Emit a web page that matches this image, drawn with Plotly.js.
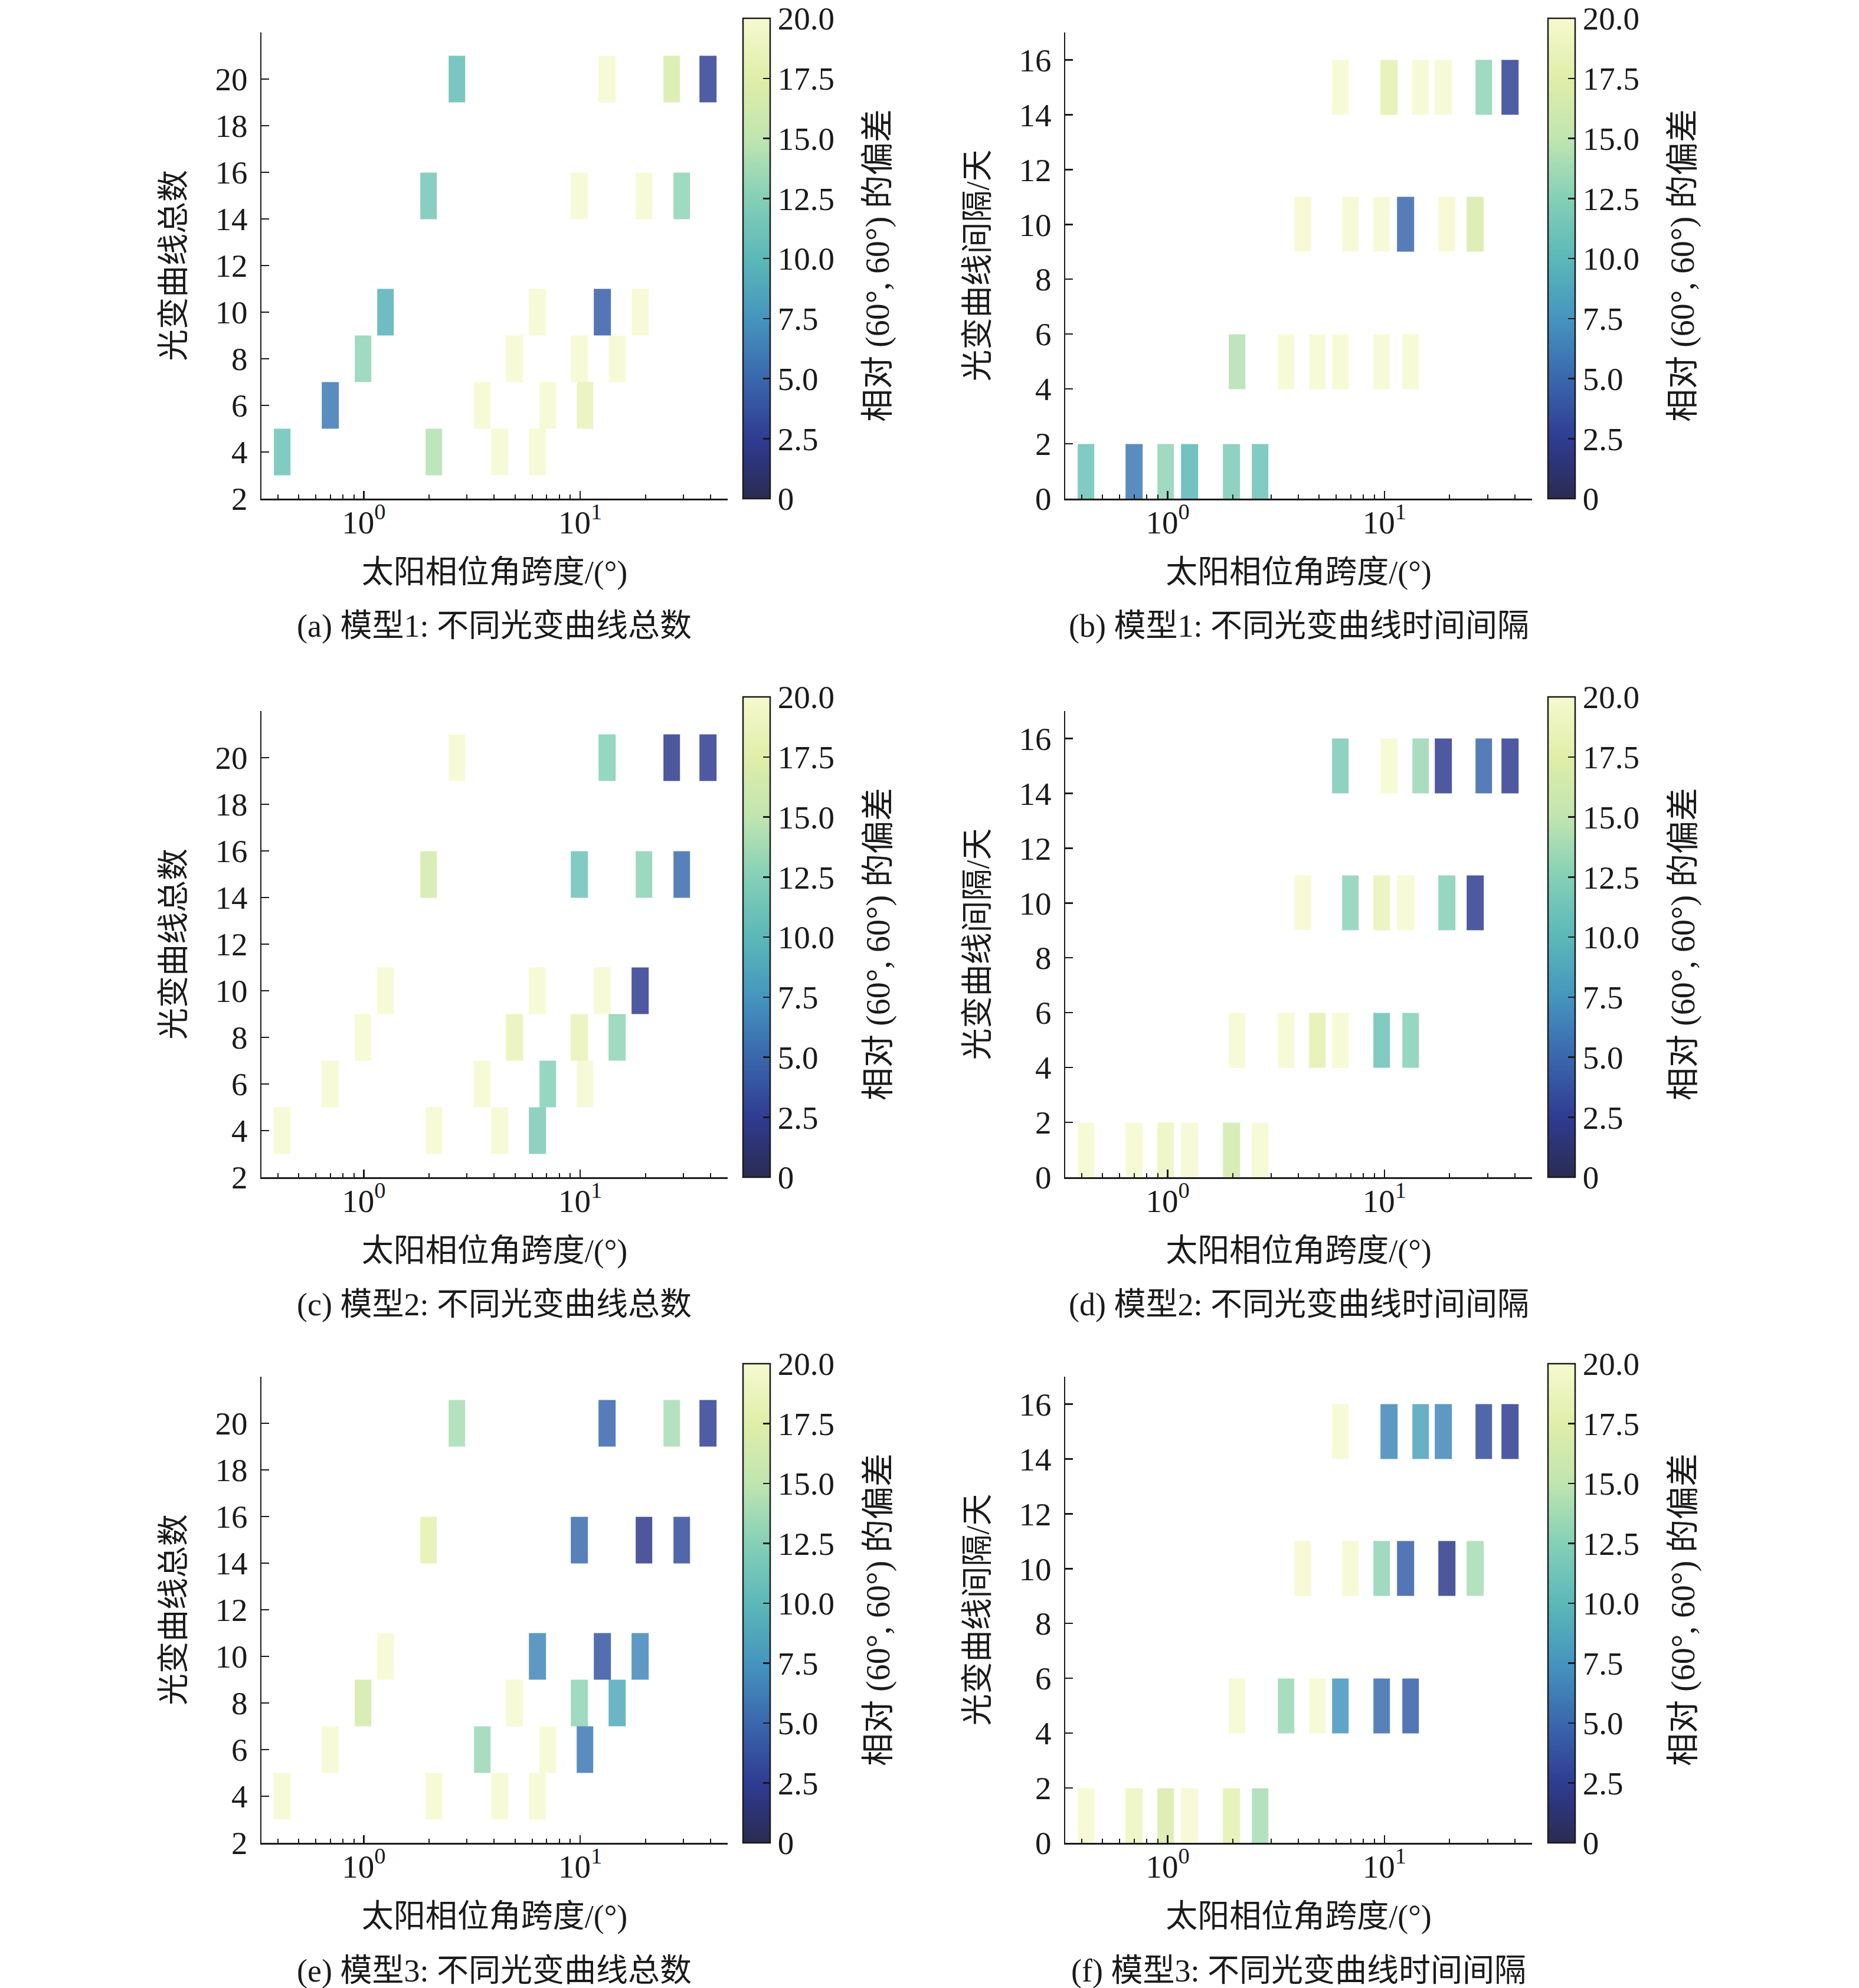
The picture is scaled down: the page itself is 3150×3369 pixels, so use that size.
<!DOCTYPE html>
<html>
<head>
<meta charset="utf-8">
<script src="https://cdn.plot.ly/plotly-3.0.1.min.js"></script>
<style>html,body{margin:0;padding:0;background:#fff}</style>
</head>
<body>
<div id="chart" style="width:3150px;height:3369px"></div>
<script>
// ---------------- data ----------------
// left column (a, c, e): total number of light curves
const countX = [2.69, 13.3, 26.5, 38.9, 1.99, 9.9, 19.7, 29.4, 1.26, 6.34, 12.65, 18.9, 0.99, 4.96, 9.9, 14.8, 0.70, 3.53, 7.08, 10.5, 0.42, 2.11, 4.24, 6.34];
const countY = [20, 20, 20, 20, 15, 15, 15, 15, 10, 10, 10, 10, 8, 8, 8, 8, 6, 6, 6, 6, 4, 4, 4, 4];
const zA = [10.5, 20, 17, 2.8, 11.5, 20, 20, 13, 9.5, 20, 4.5, 20, 13, 20, 20, 20, 6, 20, 20, 18.5, 11, 14.5, 20, 20];
const zC = [20, 12.5, 2.2, 2.5, 16.5, 11, 12.8, 5.2, 20, 20, 20, 2.5, 20, 18.5, 18.5, 13, 20, 20, 12.5, 20, 20, 20, 20, 12];
const zE = [14, 5, 14, 2.8, 18, 5.2, 2.2, 3.5, 20, 6.8, 4, 6.8, 16.5, 20, 13, 9, 20, 13.5, 20, 6, 20, 20, 20, 20];
// right column (b, d, f): time interval between light curves
const intervalX = [6.27, 10.5, 14.7, 18.7, 28.7, 38.0, 4.2, 6.96, 9.7, 12.5, 19.4, 26.2, 2.09, 3.51, 4.91, 6.27, 9.72, 13.2, 0.42, 0.70, 0.98, 1.26, 1.97, 2.67];
const intervalY = [15, 15, 15, 15, 15, 15, 10, 10, 10, 10, 10, 10, 5, 5, 5, 5, 5, 5, 1, 1, 1, 1, 1, 1];
const zB = [20, 18, 20, 20, 13, 2.8, 20, 20, 20, 5, 20, 17, 14.5, 20, 20, 20, 20, 20, 11, 6, 13, 10, 12, 11];
const zD = [12, 20, 13.5, 2.5, 5, 2.5, 20, 12.8, 18.5, 20, 12.5, 2.5, 20, 20, 18, 20, 11, 12.5, 20, 20, 19, 20, 16.5, 20];
const zF = [20, 6.8, 8.5, 6.8, 3.5, 2.5, 20, 20, 13, 4.5, 2.2, 14, 20, 13.5, 20, 7.5, 5.2, 4.5, 20, 19, 17, 20, 18, 14];

const xTickVals = [1, 10];
const xTickText = ['10<sup>0</sup>', '10<sup>1</sup>'];
const countTicks = [2, 4, 6, 8, 10, 12, 14, 16, 18, 20];
const intervalTicks = [0, 2, 4, 6, 8, 10, 12, 14, 16];
const cbTickVals = [0, 2.5, 5, 7.5, 10, 12.5, 15, 17.5, 20];
const cbTickText = ['0', '2.5', '5.0', '7.5', '10.0', '12.5', '15.0', '17.5', '20.0'];

const captions = ['(a) 模型1: 不同光变曲线总数', '(b) 模型1: 不同光变曲线时间间隔',
                  '(c) 模型2: 不同光变曲线总数', '(d) 模型2: 不同光变曲线时间间隔',
                  '(e) 模型3: 不同光变曲线总数', '(f) 模型3: 不同光变曲线时间间隔'];
const xTitle = '太阳相位角跨度/(°)';
const yTitles = ['光变曲线总数', '光变曲线间隔/天'];
const cbTitle = '相对 (60°, 60°) 的偏差';

// ---------------- style ----------------
const W = 3150, H = 3369;
const FONT = '"Liberation Serif", "Times New Roman", "Noto Sans CJK SC", serif';
const INK = '#1a1a1a';
const TICK_SIZE = 55, TITLE_SIZE = 54;
const HALF_DEC = 0.0386;   // half bar width in decades
const HALF_ROW = 1;        // half bar height
const colorscale = [
  [0.000, '#2b2c52'], [0.0625, '#2c3372'], [0.125, '#2f3c92'], [0.25, '#3a67ad'],
  [0.375, '#4595bf'], [0.5, '#5bb8b8'], [0.625, '#84d0b7'], [0.75, '#c0e5b0'],
  [0.875, '#dfeea8'], [1.0, '#f6f9cf']
];

function grid(xs, ys, zs) {
  const lx = xs.map(v => Math.log10(v));
  let xe = [], ye = [];
  lx.forEach(l => { xe.push(l - HALF_DEC, l + HALF_DEC); });
  ys.forEach(y => { ye.push(y - HALF_ROW, y + HALF_ROW); });
  const uniq = a => Array.from(new Set(a.map(v => +v.toFixed(6)))).sort((p, q) => p - q);
  xe = uniq(xe); ye = uniq(ye);
  const z = [];
  for (let i = 0; i < ye.length - 1; i++) {
    const ym = (ye[i] + ye[i + 1]) / 2;
    const row = [];
    for (let j = 0; j < xe.length - 1; j++) {
      const xm = (xe[j] + xe[j + 1]) / 2;
      let val = null;
      for (let k = 0; k < xs.length; k++) {
        if (Math.abs(ym - ys[k]) < HALF_ROW && Math.abs(xm - lx[k]) < HALF_DEC) { val = zs[k]; break; }
      }
      row.push(val);
    }
    z.push(row);
  }
  return { x: xe.map(v => Math.pow(10, v)), y: ye, z: z };
}

// geometry (pixels)
const colPx = [[443, 1233], [1805, 2596]];
const rowPx = [[55, 845], [1205, 1995], [2333, 3123]];
const cbTop = [31, 1181, 2311];
const cbLeft = [1259, 2623];
const cbTitleDx = 229;
const captionY = [1061, 2211, 3340];

const panels = [
  { xs: countX, ys: countY, zs: zA, col: 0, row: 0 },
  { xs: intervalX, ys: intervalY, zs: zB, col: 1, row: 0 },
  { xs: countX, ys: countY, zs: zC, col: 0, row: 1 },
  { xs: intervalX, ys: intervalY, zs: zD, col: 1, row: 1 },
  { xs: countX, ys: countY, zs: zE, col: 0, row: 2 },
  { xs: intervalX, ys: intervalY, zs: zF, col: 1, row: 2 }
];

const data = [];
const layout = {
  width: W, height: H,
  margin: { l: 0, r: 0, t: 0, b: 0, pad: 0 },
  paper_bgcolor: '#fff', plot_bgcolor: '#fff',
  showlegend: false,
  font: { family: FONT, color: INK, size: TICK_SIZE },
  annotations: []
};

panels.forEach((p, i) => {
  const n = i === 0 ? '' : String(i + 1);
  const g = grid(p.xs, p.ys, p.zs);
  const [top, bot] = rowPx[p.row];
  data.push({
    type: 'heatmap', x: g.x, y: g.y, z: g.z,
    xaxis: 'x' + n, yaxis: 'y' + n,
    colorscale: colorscale, zmin: 0, zmax: 20,
    opacity: 0.85,
    hoverinfo: 'skip',
    showscale: true,
    colorbar: {
      x: cbLeft[p.col] / W, xanchor: 'left', xref: 'paper',
      y: 1 - cbTop[p.row] / H, yanchor: 'top', yref: 'paper',
      lenmode: 'pixels', len: bot - cbTop[p.row],
      thicknessmode: 'pixels', thickness: 46,
      xpad: 0, ypad: 0,
      outlinewidth: 2.5, outlinecolor: INK,
      ticks: 'inside', ticklen: 13, tickwidth: 2.5, tickcolor: INK,
      tickmode: 'array', tickvals: cbTickVals, ticktext: cbTickText,
      tickfont: { family: FONT, size: TICK_SIZE, color: INK }
    }
  });
  const isCount = p.col === 0;
  layout['xaxis' + n] = {
    domain: [colPx[p.col][0] / W, colPx[p.col][1] / W],
    anchor: 'y' + n,
    type: 'log', range: [-0.473, 1.681],
    showline: true, linecolor: INK, linewidth: 2.5, mirror: false,
    showgrid: false, zeroline: false,
    ticks: 'inside', ticklen: 13, tickwidth: 2.5, tickcolor: INK,
    ticklabelstandoff: -10,
    tickmode: 'array', tickvals: xTickVals, ticktext: xTickText,
    tickfont: { family: FONT, size: TICK_SIZE, color: INK },
    minor: { ticks: 'inside', ticklen: 7, tickwidth: 2, tickcolor: INK, dtick: 'D1', showgrid: false },
    title: { text: xTitle, font: { family: FONT, size: TITLE_SIZE, color: INK }, standoff: 36 }
  };
  layout['yaxis' + n] = {
    domain: [1 - bot / H, 1 - top / H],
    anchor: 'x' + n,
    range: isCount ? [2, 22] : [0, 17],
    showline: true, linecolor: INK, linewidth: 2.5, mirror: false,
    showgrid: false, zeroline: false,
    ticks: 'inside', ticklen: 13, tickwidth: 2.5, tickcolor: INK,
    ticklabelstandoff: 10,
    tickmode: 'array', tickvals: isCount ? countTicks : intervalTicks,
    tickfont: { family: FONT, size: TICK_SIZE, color: INK },
    title: { text: yTitles[p.col], font: { family: FONT, size: TITLE_SIZE, color: INK }, standoff: 34 }
  };
  layout.annotations.push({
    text: captions[i], showarrow: false,
    xref: 'paper', yref: 'paper',
    x: (colPx[p.col][0] + colPx[p.col][1]) / 2 / W, xanchor: 'center',
    y: 1 - captionY[p.row] / H, yanchor: 'middle',
    font: { family: FONT, size: TITLE_SIZE, color: INK }
  });
  layout.annotations.push({
    text: cbTitle, showarrow: false, textangle: -90,
    xref: 'paper', yref: 'paper',
    x: (cbLeft[p.col] + cbTitleDx) / W, xanchor: 'center',
    y: 1 - (top + bot) / 2 / H, yanchor: 'middle',
    font: { family: FONT, size: 56, color: INK }
  });
});

Plotly.newPlot('chart', data, layout, { staticPlot: true, displayModeBar: false });
</script>
</body>
</html>
